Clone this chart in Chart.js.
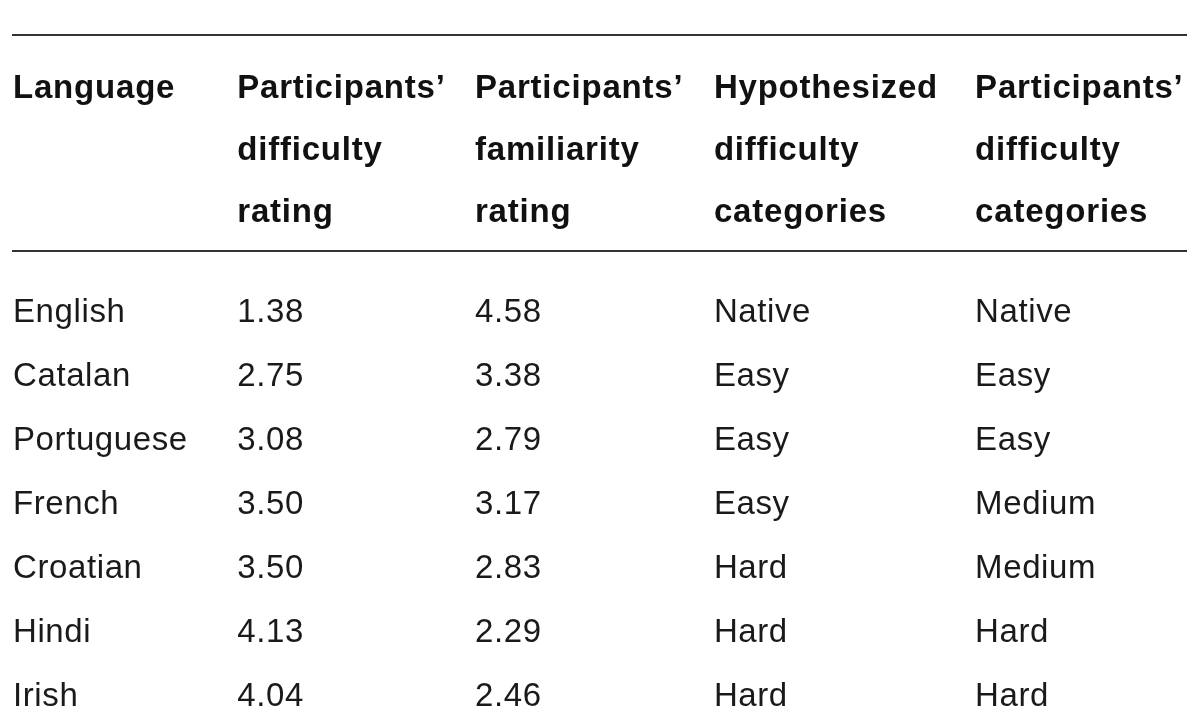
<!DOCTYPE html>
<html>
<head>
<meta charset="utf-8">
<script src="https://cdn.jsdelivr.net/npm/chart.js@4/dist/chart.umd.min.js"></script>
<style>
  html, body { margin: 0; padding: 0; background: #fff; }
  #chart { display: block; }
</style>
</head>
<body>
<canvas id="chart" width="1200" height="720"></canvas>
<script>
// table data
const languages = ['English', 'Catalan', 'Portuguese', 'French', 'Croatian', 'Hindi', 'Irish'];
const difficultyRating = [1.38, 2.75, 3.08, 3.50, 3.50, 4.13, 4.04];
const familiarityRating = [4.58, 3.38, 2.79, 3.17, 2.83, 2.29, 2.46];
const hypothesizedCategories = ['Native', 'Easy', 'Easy', 'Easy', 'Hard', 'Hard', 'Hard'];
const participantsCategories = ['Native', 'Easy', 'Easy', 'Medium', 'Medium', 'Hard', 'Hard'];
const headers = [
    ['Language'],
    ['Participants\u2019', 'difficulty', 'rating'],
    ['Participants\u2019', 'familiarity', 'rating'],
    ['Hypothesized', 'difficulty', 'categories'],
    ['Participants\u2019', 'difficulty', 'categories']
];

// column layout (percent of table width where each column starts)
const colStart = [0, 19.1, 39.35, 59.7, 81.95];

const columns = [
    languages,
    difficultyRating.map(v => v.toFixed(2)),
    familiarityRating.map(v => v.toFixed(2)),
    hypothesizedCategories,
    participantsCategories
];

const headFont = 'bold 33px "Liberation Sans", Arial, sans-serif';
const bodyFont = '33px "Liberation Sans", Arial, sans-serif';

// draws rules, header and the cell texts at the points chart.js placed
const tablePlugin = {
    id: 'tableText',
    afterDatasetsDraw(chart) {
        const ctx = chart.ctx;
        const area = chart.chartArea;
        ctx.save();

        // horizontal rules
        ctx.strokeStyle = '#333';
        ctx.lineWidth = 2;
        [area.top - 275.5, area.top - 59.5].forEach(y => {
            ctx.beginPath();
            ctx.moveTo(area.left - 1, y);
            ctx.lineTo(area.right, y);
            ctx.stroke();
        });

        ctx.textAlign = 'left';
        ctx.textBaseline = 'alphabetic';

        // header
        ctx.font = headFont;
        ctx.fillStyle = '#111';
        if ('letterSpacing' in ctx) ctx.letterSpacing = '0.8px';
        headers.forEach((lines, c) => {
            const x = chart.scales.x.getPixelForValue(colStart[c]);
            lines.forEach((line, j) => {
                ctx.fillText(line, x, area.top - 213 + j * 62);
            });
        });

        // body cells
        ctx.font = bodyFont;
        ctx.fillStyle = '#1a1a1a';
        if ('letterSpacing' in ctx) ctx.letterSpacing = '0.6px';
        const capH = ctx.measureText('H').actualBoundingBoxAscent;
        chart.data.datasets.forEach((ds, c) => {
            const meta = chart.getDatasetMeta(c);
            meta.data.forEach((pt, i) => {
                ctx.fillText(columns[c][i], pt.x, pt.y + capH / 2);
            });
        });

        ctx.restore();
    }
};

const ctx = document.getElementById('chart').getContext('2d');
new Chart(ctx, {
    type: 'scatter',
    data: {
        labels: languages,
        datasets: columns.map((col, c) => ({
            label: headers[c].join(' '),
            data: languages.map(lang => ({ x: colStart[c], y: lang })),
            pointRadius: 0,
            pointHoverRadius: 0
        }))
    },
    options: {
        responsive: false,
        animation: false,
        devicePixelRatio: 1,
        layout: {
            padding: { left: 13, right: 13, top: 310.5, bottom: 25.5 }
        },
        plugins: {
            legend: { display: false },
            tooltip: { enabled: false }
        },
        scales: {
            x: {
                type: 'linear',
                min: 0,
                max: 100,
                display: false
            },
            y: {
                type: 'category',
                labels: languages,
                offset: false,
                display: false
            }
        }
    },
    plugins: [tablePlugin]
});
</script>
</body>
</html>
